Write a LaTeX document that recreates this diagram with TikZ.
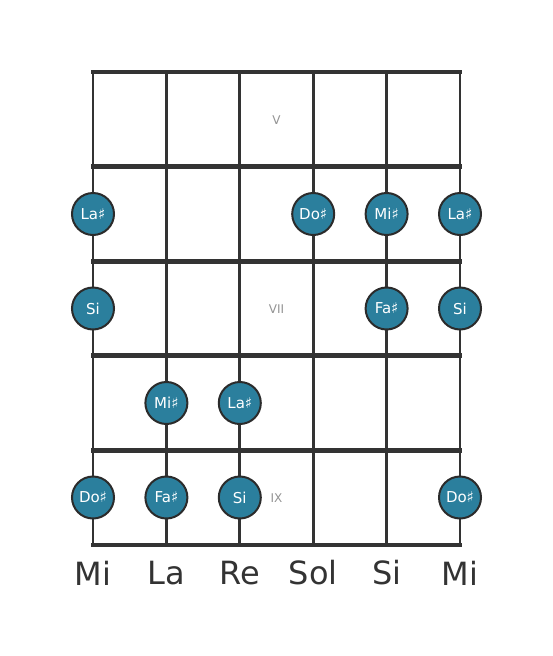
\documentclass[tikz,border=0pt]{standalone}
\usepackage{fontspec}
\setmainfont{DejaVu Sans}
\begin{document}
\begin{tikzpicture}[x=1pt,y=-1pt,
  stringline/.style={draw=linec,line width=2.8pt},
  fretline/.style={draw=linec,line width=4.8pt},
  notedot/.style={circle,draw=dotborder,line width=2pt,fill=dotfill,minimum size=42pt,inner sep=0pt,text=white,font=\fontsize{15}{15}\selectfont},
  fretnum/.style={text=gray!85,font=\fontsize{12}{12}\selectfont},
  strname/.style={text=linec,font=\fontsize{32}{32}\selectfont}]
\definecolor{linec}{HTML}{333333}
\definecolor{dotborder}{HTML}{2B2B2B}
\definecolor{dotfill}{HTML}{2B7F9D}
\useasboundingbox (0,0) rectangle (553,656);
% string coordinates
\foreach \i/\x in {1/93,2/166.4,3/239.8,4/313.2,5/386.6,6/460}{
  \coordinate (st\i) at (\x,72);
  \coordinate (sb\i) at (\x,545);
}
\foreach \i in {1,...,6}{ \draw[stringline] (st\i) -- (sb\i); }
\foreach \j/\y in {0/72,1/166.6,2/261.2,3/355.8,4/450.4,5/545}{
  \coordinate (fl\j) at (93,\y);
  \coordinate (fr\j) at (460,\y);
  \draw[fretline,line cap=rect] (fl\j) -- (fr\j);
}
% fret numbers
\node[fretnum] (fV) at (276.5,120) {V};
\node[fretnum] (fVII) at (276.5,309) {VII};
\node[fretnum] (fIX) at (276.5,498) {IX};
% notes
\node[notedot] (n1) at (93,214) {La♯};
\node[notedot] (n2) at (313.2,214) {Do♯};
\node[notedot] (n3) at (386.6,214) {Mi♯};
\node[notedot] (n4) at (460,214) {La♯};
\node[notedot] (n5) at (93,308.5) {Si};
\node[notedot] (n6) at (386.6,308.5) {Fa♯};
\node[notedot] (n7) at (460,308.5) {Si};
\node[notedot] (n8) at (166.4,403) {Mi♯};
\node[notedot] (n9) at (239.8,403) {La♯};
\node[notedot] (n10) at (93,497.5) {Do♯};
\node[notedot] (n11) at (166.4,497.5) {Fa♯};
\node[notedot] (n12) at (239.8,497.5) {Si};
\node[notedot] (n13) at (460,497.5) {Do♯};
% string names
\node[strname] (l1) at (93,573) {Mi};
\node[strname] (l2) at (166.4,573) {La};
\node[strname] (l3) at (239.8,573) {Re};
\node[strname] (l4) at (313.2,573) {Sol};
\node[strname] (l5) at (386.6,573) {Si};
\node[strname] (l6) at (460,573) {Mi};
\end{tikzpicture}
\end{document}
